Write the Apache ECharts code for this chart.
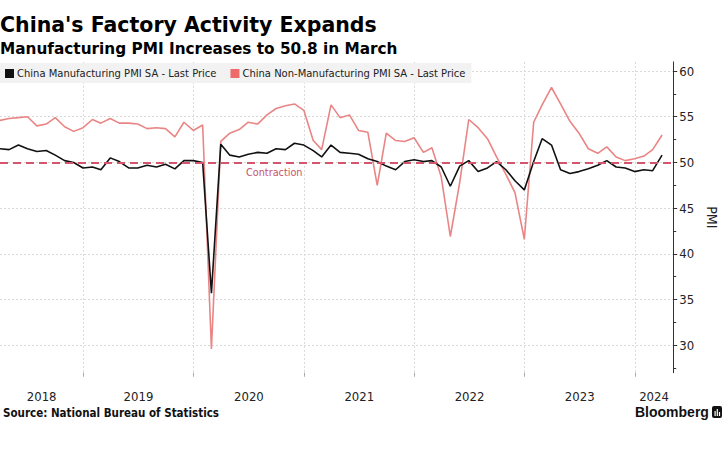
<!DOCTYPE html>
<html><head><meta charset="utf-8">
<script src="https://cdn.jsdelivr.net/npm/echarts@6/dist/echarts.min.js"></script>
<style>html,body{margin:0;padding:0;background:#fff}#c{width:727px;height:457px}</style>
</head><body><div id="c"></div>
<script>
// ---- data ----
const startYear = 2018, startMonth = 3; // first observation: March 2018 (month-end)
const manufacturing = [
  51.5, 51.4, 51.9, 51.5, 51.2, 51.3, 50.8, 50.2, 50.0, 49.4,
  49.5, 49.2, 50.5, 50.1, 49.4, 49.4, 49.7, 49.5, 49.8, 49.3, 50.2, 50.2,
  50.0, 35.7, 52.0, 50.8, 50.6, 50.9, 51.1, 51.0, 51.5, 51.4, 52.1, 51.9,
  51.3, 50.6, 51.9, 51.1, 51.0, 50.9, 50.4, 50.1, 49.6, 49.2, 50.1, 50.3,
  50.1, 50.2, 49.5, 47.4, 49.6, 50.2, 49.0, 49.4, 50.1, 49.2, 48.0, 47.0,
  50.1, 52.6, 51.9, 49.2, 48.8, 49.0, 49.3, 49.7, 50.2, 49.5, 49.4, 49.0,
  49.2, 49.1, 50.8
];
const nonManufacturing = [
  54.6, 54.8, 54.9, 55.0, 54.0, 54.2, 54.9, 53.9, 53.4, 53.8,
  54.7, 54.3, 54.8, 54.3, 54.3, 54.2, 53.7, 53.8, 53.7, 52.8, 54.4, 53.5,
  54.1, 29.6, 52.3, 53.2, 53.6, 54.4, 54.2, 55.2, 55.9, 56.2, 56.4, 55.7,
  52.4, 51.4, 56.3, 54.9, 55.2, 53.5, 53.3, 47.5, 53.2, 52.4, 52.3, 52.7,
  51.1, 51.6, 48.4, 41.9, 47.8, 54.7, 53.8, 52.6, 50.6, 48.7, 46.7, 41.6,
  54.4, 56.3, 58.2, 56.4, 54.5, 53.2, 51.5, 51.0, 51.7, 50.6, 50.2, 50.4,
  50.7, 51.4, 53.0
];
const yearLabels = ['2018', '2019', '2020', '2021', '2022', '2023', '2024'];
const yTickValues = [30, 35, 40, 45, 50, 55, 60];
const yMinorTickValues = [27.5, 32.5, 37.5, 42.5, 47.5, 52.5, 57.5];
const contractionLevel = 50;
const seriesNames = ['China Manufacturing PMI SA - Last Price', 'China Non-Manufacturing PMI SA - Last Price'];

// ---- build ----
const dates = manufacturing.map((_, i) => {
  const k = startMonth - 1 + i;
  const y = startYear + Math.floor(k / 12), m = (k % 12) + 1;
  return Date.UTC(y, m, 0); // last day of month
});
const xMin = Date.UTC(2018, 2, 31);
const xMax = Date.UTC(2024, 4, 7);
const yearStarts = yearLabels.slice(1).map(y => Date.UTC(+y, 0, 1));
const labelPos = yearLabels.map(y => {
  const lo = Math.max(xMin, Date.UTC(+y, 0, 1));
  const hi = Math.min(xMax, Date.UTC(+y + 1, 0, 1));
  return (lo + hi) / 2;
});
const contractionX = Date.UTC(2020, 8, 24);

const FC = 'DejaVu Sans Condensed, DejaVu Sans, sans-serif';
const chart = echarts.init(document.getElementById('c'), null, { renderer: 'svg' });
chart.setOption({
  animation: false,
  backgroundColor: '#fff',
  legend: {
    left: 0, top: 63, padding: [5, 6, 4, 5], backgroundColor: '#f2f2f2',
    itemWidth: 9, itemHeight: 9, itemGap: 14, icon: 'rect',
    textStyle: { fontFamily: FC, fontSize: 11.1, color: '#222', padding: [0, 0, 0, -2] },
    data: seriesNames
  },
  grid: { left: 0, right: 41, top: 61.9, bottom: 84.3 },
  xAxis: [{
    type: 'value', min: xMin, max: xMax, position: 'bottom',
    axisLine: { show: false },
    axisTick: { show: true, customValues: yearStarts, length: 4, lineStyle: { color: '#aaa' } },
    axisLabel: { show: false },
    splitLine: { show: true, lineStyle: { color: '#d9d9d9', type: [2, 2] } }
  }, {
    type: 'value', min: xMin, max: xMax, position: 'bottom',
    axisLine: { show: false }, axisTick: { show: false }, splitLine: { show: false },
    axisLabel: {
      customValues: labelPos, margin: 17, fontFamily: FC, fontSize: 13, color: '#222',
      formatter: v => String(new Date(v).getUTCFullYear())
    }
  }],
  yAxis: [{
    type: 'value', position: 'right', min: 27, max: 61,
    name: 'PMI', nameLocation: 'middle', nameRotate: -90, nameGap: 24,
    nameTextStyle: { fontFamily: FC, fontSize: 14, color: '#222' },
    axisLine: { show: true, lineStyle: { color: '#333', width: 1 } },
    axisTick: { show: true, customValues: yTickValues, length: 4, lineStyle: { color: '#333' } },
    axisLabel: { customValues: yTickValues, margin: 6, fontFamily: FC, fontSize: 13, color: '#222' },
    splitLine: { show: true, lineStyle: { color: '#d9d9d9', type: [2, 2] } }
  }, {
    type: 'value', position: 'right', min: 27, max: 61,
    axisLine: { show: false },
    axisTick: { show: true, customValues: yMinorTickValues, length: 3, lineStyle: { color: '#333' } },
    axisLabel: { show: false }, splitLine: { show: false }
  }],
  series: [{
    name: seriesNames[0], type: 'line', xAxisIndex: 0, yAxisIndex: 0,
    data: dates.map((d, i) => [d, manufacturing[i]]),
    showSymbol: false, color: '#111', lineStyle: { width: 1.6, color: '#111' }, z: 3
  }, {
    name: seriesNames[1], type: 'line', xAxisIndex: 0, yAxisIndex: 0,
    data: dates.map((d, i) => [d, nonManufacturing[i]]),
    showSymbol: false, color: '#ee6b6b', lineStyle: { width: 1.6, color: '#ea8585' }, z: 2,
    markLine: {
      silent: true, symbol: 'none', label: { show: false },
      lineStyle: { color: '#d4566e', type: [8, 5], width: 1.8 },
      data: [{ yAxis: contractionLevel }], z: 4
    },
    markPoint: {
      silent: true, symbol: 'circle', symbolSize: 0,
      label: { show: true, position: 'bottom', distance: 5, formatter: 'Contraction',
        fontFamily: FC, fontSize: 10.8, color: '#c9546c' },
      data: [{ coord: [contractionX, contractionLevel] }]
    }
  }],
  graphic: [
    { type: 'text', left: 0, top: 14, style: { text: "China's Factory Activity Expands",
      font: 'bold 20.5px "DejaVu Sans", sans-serif', fill: '#000' } },
    { type: 'text', left: 0, top: 41, style: { text: 'Manufacturing PMI Increases to 50.8 in March',
      font: 'bold 15.3px "DejaVu Sans", sans-serif', fill: '#000' } },
    { type: 'text', left: 3, top: 407, style: { text: 'Source: National Bureau of Statistics',
      font: 'bold 11.5px "DejaVu Sans Condensed", "DejaVu Sans", sans-serif', fill: '#111' } },
    { type: 'text', left: 635, top: 405, style: { text: 'Bloomberg',
      font: 'bold 14px "Liberation Sans", Arial, sans-serif', fill: '#111' } },
    { type: 'rect', left: 712, top: 406, shape: { width: 10, height: 12, r: 2 }, style: { fill: '#111' } },
    { type: 'rect', left: 714.5, top: 411, shape: { width: 1.2, height: 5 }, style: { fill: '#fff' } },
    { type: 'rect', left: 716.7, top: 409, shape: { width: 1.2, height: 7 }, style: { fill: '#fff' } },
    { type: 'rect', left: 718.9, top: 412, shape: { width: 1.2, height: 4 }, style: { fill: '#fff' } }
  ]
});
</script></body></html>
